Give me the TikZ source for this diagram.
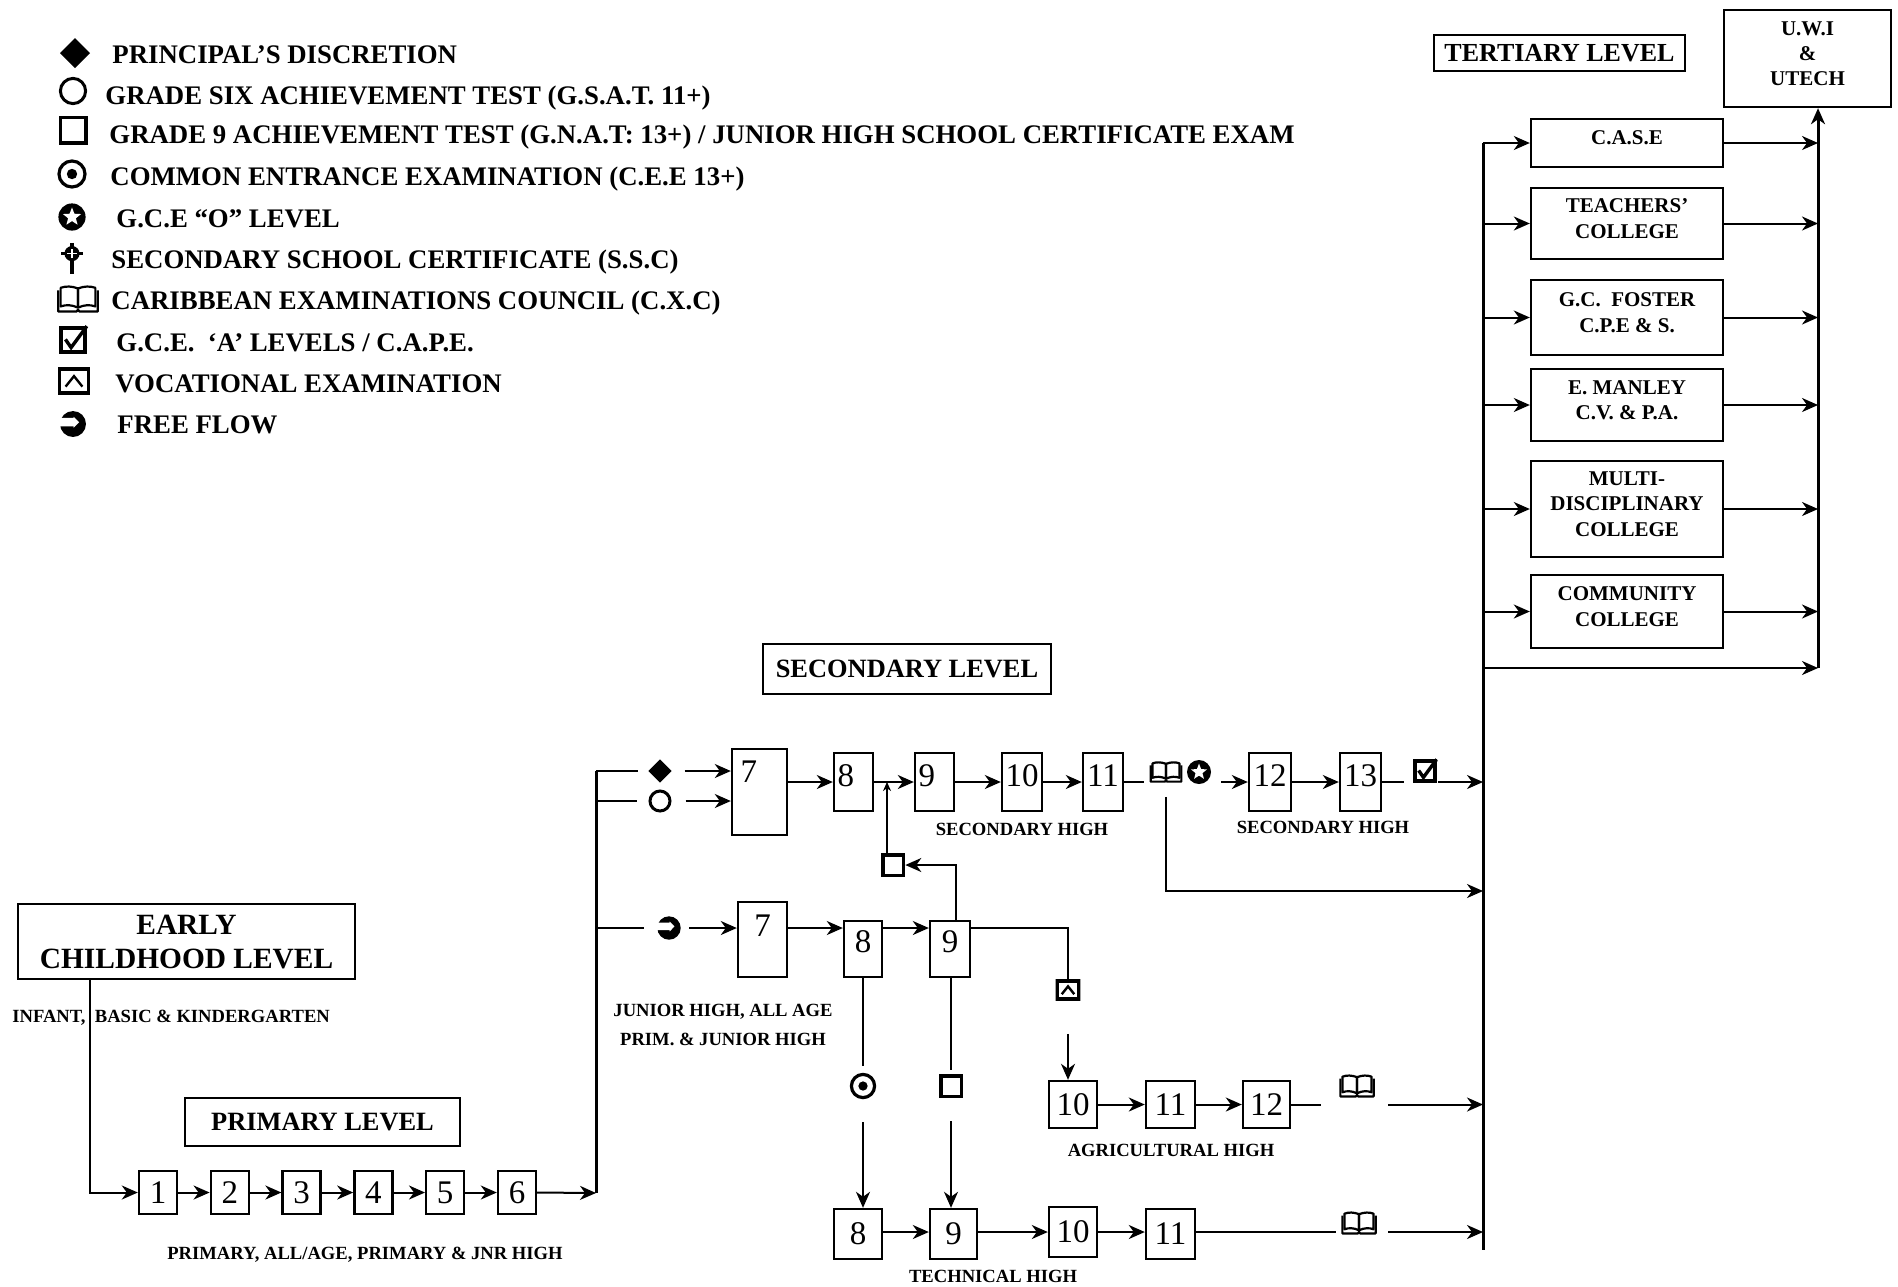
\documentclass[tikz,border=0pt]{standalone}
\usepackage{fontspec}
\setmainfont{Liberation Serif}
\usetikzlibrary{arrows.meta,positioning,shapes.geometric,calc}
\newcommand{\legfont}{\fontsize{13.4}{16}\selectfont\bfseries}
\newcommand{\lvlfont}{\fontsize{13.2}{16}\selectfont\bfseries}
\newcommand{\ecfont}{\fontsize{14.7}{17}\selectfont\bfseries}
\newcommand{\colfont}{\fontsize{10.5}{12.6}\selectfont\bfseries}
\newcommand{\tagfont}{\fontsize{9.3}{14.5}\selectfont\bfseries}
\newcommand{\numfont}{\fontsize{16.5}{18}\selectfont}
\tikzset{
  line/.style={line width=1pt},
  arr/.style={line width=1pt,-{Stealth[length=8pt,width=7pt,inset=2.5pt]}},
  arrsmall/.style={line width=0.6pt,-{Stealth[length=4.5pt,width=4pt,inset=1.4pt]}},
  bus/.style={line width=1.5pt},
  level/.style={draw,line width=1.2pt,inner sep=0pt,font=\lvlfont,align=center},
  college/.style={draw,line width=1.2pt,inner sep=0pt,minimum width=96pt,
    font=\colfont,align=center,text depth=5pt},
  grade/.style={draw,line width=1.2pt,inner sep=0pt,font=\numfont},
  toprow/.style={grade,minimum height=29pt,text height=16.6pt,text depth=12.4pt},
  legtext/.style={anchor=west,inner sep=0pt,font=\legfont,text height=8.8pt,
    text depth=0pt},
  tag/.style={inner sep=0pt,font=\tagfont,align=center},
  % exam marks
  pdmark/.style={diamond,fill=black,inner sep=0pt,outer sep=0pt,minimum size=2*#1},
  gsatmark/.style={circle,draw,line width=1.5pt,inner sep=0pt,minimum size=2*#1},
  gnatmark/.style={rectangle,draw,line width=1.9pt,inner sep=0pt,minimum size=2*#1},
  ceemark/.style={circle,draw,line width=1.6pt,inner sep=0pt,minimum size=2*#1,
    path picture={\fill (path picture bounding box.center) circle[radius=0.4*#1];}},
  gcemark/.style={circle,fill=black,inner sep=0pt,minimum size=2*#1,
    path picture={\fill[white,shift={(path picture bounding box.center)}]
      (90:0.7*#1) -- (126:0.3*#1) -- (162:0.7*#1) -- (198:0.3*#1) -- (234:0.7*#1)
      -- (270:0.3*#1) -- (306:0.7*#1) -- (342:0.3*#1) -- (18:0.7*#1)
      -- (54:0.3*#1) -- cycle;}},
  sscmark/.style={inner sep=0pt,minimum width=1.8*#1,minimum height=2.6*#1,
    path picture={\begin{scope}[shift={(path picture bounding box.center)},x=#1,y=#1]
      \draw[line width=1.7pt] (0,1.2) -- (0,-1.3);
      \draw[line width=1.7pt] (-0.85,0.35) -- (0.85,0.35);
      \fill (0,0.35) circle[radius=0.6];
      \draw[white,line width=0.6pt] (-0.38,0.35) -- (0.38,0.35) (0,-0.03) -- (0,0.73);
    \end{scope}}},
  cxcmark/.style={inner sep=0pt,minimum width=3.6*#1,minimum height=2.4*#1,
    path picture={\begin{scope}[shift={(path picture bounding box.center)},x=#1,y=#1,
      line width=1.1pt,line join=round]
      \draw (-1.6,0.7) -- (-1.6,-1) -- (-0.1,-1) -- (0,-0.85) -- (0.1,-1)
        -- (1.6,-1) -- (1.6,0.7);
      \draw (0,-0.7) -- (0,0.85) .. controls (-0.5,1.05) and (-1.0,1.05) .. (-1.4,0.9)
        -- (-1.4,-0.6) .. controls (-1.0,-0.45) and (-0.5,-0.45) .. (0,-0.7);
      \draw (0,-0.7) -- (0,0.85) .. controls (0.5,1.05) and (1.0,1.05) .. (1.4,0.9)
        -- (1.4,-0.6) .. controls (1.0,-0.45) and (0.5,-0.45) .. (0,-0.7);
    \end{scope}}},
  capemark/.style={inner sep=0pt,minimum size=2.4*#1,
    path picture={\begin{scope}[shift={(path picture bounding box.center)},x=#1,y=#1]
      \draw[line width=1.7pt] (-0.95,-0.95) rectangle (0.95,0.95);
      \draw[line width=1.7pt,line join=miter] (-0.6,0.05) -- (-0.15,-0.6) -- (1.1,1.1);
    \end{scope}}},
  vocmark/.style={inner sep=0pt,minimum width=2.4*#1,minimum height=2*#1,
    path picture={\begin{scope}[shift={(path picture bounding box.center)},x=#1,y=#1]
      \draw[line width=1.7pt] (-1.05,-0.85) rectangle (1.05,0.85);
      \draw[line width=1.2pt] (-0.6,-0.4) -- (0,0.35) -- (0.6,-0.4);
    \end{scope}}},
  ffmark/.style={inner sep=0pt,minimum size=2*#1,
    path picture={\begin{scope}[shift={(path picture bounding box.center)},x=#1,y=#1]
      \fill (0,0) circle[radius=0.9];
      \fill[white] (-1,0.42) -- (0.05,0.42) -- (0.05,0.5) -- (0.42,0.12)
        -- (0.05,-0.26) -- (0.05,-0.16) -- (-1,-0.16) -- cycle;
    \end{scope}}}
}
\begin{document}
\begin{tikzpicture}[x=0.5pt,y=-0.5pt]
\fill[white] (0,0) rectangle (1898,1286);
\useasboundingbox (0,0) rectangle (1898,1286);

% key
\node[pdmark=7.5pt] (lgPd) at (75,53) {};
\node[legtext] (ltPd) at (112,54.5) {PRINCIPAL’S DISCRETION};
\node[gsatmark=6.3pt] (lgGs) at (73,91) {};
\node[legtext] (ltGs) at (105,95.5) {GRADE SIX ACHIEVEMENT TEST (G.S.A.T. 11+)};
\node[gnatmark=6.3pt] (lgGn) at (73,130) {};
\node[legtext] (ltGn) at (109,134.5)
  {GRADE 9 ACHIEVEMENT TEST (G.N.A.T: 13+) / JUNIOR HIGH SCHOOL CERTIFICATE EXAM};
\node[ceemark=6.5pt] (lgCe) at (72,174) {};
\node[legtext] (ltCe) at (110,177) {COMMON ENTRANCE EXAMINATION (C.E.E 13+)};
\node[gcemark=6.8pt] (lgGc) at (72,217) {};
\node[legtext] (ltGc) at (116,219) {G.C.E “O” LEVEL};
\node[sscmark=6.3pt] (lgSs) at (72,258) {};
\node[legtext] (ltSs) at (111,260) {SECONDARY SCHOOL CERTIFICATE (S.S.C)};
\node[cxcmark=6.2pt] (lgCx) at (78,299) {};
\node[legtext] (ltCx) at (111,301) {CARIBBEAN EXAMINATIONS COUNCIL (C.X.C)};
\node[capemark=6.3pt] (lgCa) at (73,340) {};
\node[legtext] (ltCa) at (116,342.5) {G.C.E.\ \ ‘A’ LEVELS / C.A.P.E.};
\node[vocmark=7pt] (lgVo) at (74,381) {};
\node[legtext] (ltVo) at (115,383.5) {VOCATIONAL EXAMINATION};
\node[ffmark=7.2pt] (lgFf) at (73,424) {};
\node[legtext] (ltFf) at (117,425) {FREE FLOW};

% tertiary
\node[level,minimum width=125.5pt,minimum height=18pt,font=\fontsize{13}{16}\selectfont\bfseries]
  (tert) at (1559.5,53) {TERTIARY LEVEL};
\node[college,minimum width=83.5pt,minimum height=48.5pt] (uwi) at (1807.5,58.5)
  {U.W.I\\\&\\UTECH};
\node[college,minimum height=24pt] (case) at (1627,143) {C.A.S.E};
\node[college,minimum height=35.5pt] (teach) at (1627,223.5) {TEACHERS’\\COLLEGE};
\node[college,minimum height=37.5pt] (foster) at (1627,317.5) {G.C.\ \ FOSTER\\C.P.E \& S.};
\node[college,minimum height=36pt] (manley) at (1627,405) {E. MANLEY\\C.V. \& P.A.};
\node[college,minimum height=48pt] (multi) at (1627,509) {MULTI-\\DISCIPLINARY\\COLLEGE};
\node[college,minimum height=36.5pt] (comm) at (1627,611.5) {COMMUNITY\\COLLEGE};
\coordinate (tbTop) at (1483,143);
\coordinate (tbBot) at (1483,1250);
\coordinate (ubBot) at (1818,668);
\draw[bus] (tbTop) -- (tbBot);
\draw[bus,-{Stealth[length=8pt,width=7pt,inset=2.5pt]}] (ubBot) -- (ubBot |- uwi.south);
\foreach \c in {case,teach,foster,manley,multi,comm}{
  \draw[arr] (tbTop |- \c.west) -- (\c.west);
  \draw[arr] (\c.east) -- (ubBot |- \c.east);
}
\draw[arr] (tbTop |- ubBot) -- (ubBot);

% secondary
\node[level,minimum width=144pt,minimum height=25pt] (sec) at (907,669) {SECONDARY LEVEL};
\coordinate (busT) at (596,771);
\coordinate (busB) at (596,1193);
\draw[bus] (busT) -- (busB);
\node[pdmark=5.8pt] (pd) at (660,771) {};
\node[gsatmark=5pt] (gs) at (660,801) {};
\node[grade,minimum width=27.5pt,minimum height=43pt,text height=16.6pt,text depth=26.4pt,
  text width=19pt,inner xsep=4pt,align=left] (s7) at (759.5,792) {7};
\node[toprow,minimum width=19.5pt,text width=16pt,inner xsep=1.75pt,align=left] (s8) at (853.5,782) {8};
\node[toprow,minimum width=19.5pt,text width=16pt,inner xsep=1.75pt,align=left] (s9) at (934.5,782) {9};
\node[toprow,minimum width=20pt] (s10) at (1022,782) {10};
\node[toprow,minimum width=20pt] (s11) at (1103,782) {11};
\node[toprow,minimum width=21pt] (s12) at (1270,782) {12};
\node[toprow,minimum width=20.5pt] (s13) at (1360.5,782) {13};
\draw[line,shorten >=5pt] (busT) -- (pd.west);
\draw[line,shorten >=6pt] (busT |- gs) -- (gs.west);
\draw[arr,shorten <=6.5pt] (pd.east) -- (s7.west |- pd);
\draw[arr,shorten <=7pt] (gs.east) -- (s7.west |- gs);
\draw[arr] (s7.east |- s8.west) -- (s8.west);
\draw[arr] (s8) -- (s9);
\draw[arr] (s9) -- (s10);
\draw[arr] (s10) -- (s11);
\node[cxcmark=4.8pt] (bkA) at (1166,772) {};
\node[gcemark=6pt] (gceA) at (1199,772) {};
\draw[line] (s11.east) -- ([xshift=-2pt]bkA.west |- s11.east);
\draw[arr] ([xshift=5pt]gceA.east |- s12.west) -- (s12.west);
\draw[arr] (s12) -- (s13);
\node[capemark=5.3pt] (cape) at (1425,771) {};
\draw[line] (s13.east) -- ([xshift=-4pt]cape.west |- s13.east);
\draw[arr] (cape.east |- s13.east) -- (tbTop |- s13.east);
\coordinate (bypass) at (1483,891);
\draw[arr] ([yshift=-6.5pt]bkA.south) |- (bypass);
\node[tag] (secTagA) at (1022,829) {SECONDARY HIGH};
\node[tag] (secTagB) at (1323,827) {SECONDARY HIGH};

% junior high
\node[ffmark=6.5pt] (ff) at (669,928) {};
\node[grade,minimum width=24.5pt,minimum height=37.5pt,text height=17.1pt,text depth=20.4pt]
  (j7) at (762.5,939.5) {7};
\node[grade,minimum width=19pt,minimum height=28pt,text height=15.6pt,text depth=12.4pt]
  (j8) at (863,949) {8};
\node[grade,minimum width=20pt,minimum height=28pt,text height=15.6pt,text depth=12.4pt]
  (j9) at (950,949) {9};
\draw[line,shorten >=6pt] (busT |- ff) -- (ff.west);
\draw[arr,shorten <=3.5pt] (ff.east) -- (j7.west |- ff);
\draw[arr] (j7.east |- ff) -- (j8.west |- ff);
\draw[arr] (j8.east |- ff) -- (j9.west |- ff);
\node[gnatmark=5.2pt] (gq) at (893,865) {};
\draw[arr] ([xshift=3pt]j9.north) |- (gq.east);
\draw[arrsmall] ([xshift=-3pt]gq.north) -- ([xshift=-3pt]gq.north |- s8.east);
\node[tag] (jrTag) at (723,1024.5) {JUNIOR HIGH, ALL AGE\\PRIM. \& JUNIOR HIGH};
\node[ceemark=5.8pt] (cee) at (863,1086) {};
\node[gnatmark=5.2pt] (gt) at (951,1086) {};
\node[vocmark=5.2pt] (voc) at (1068,990) {};
\draw[line,shorten >=3.5pt] (j8.south) -- (cee.north);
\draw[line,shorten >=2pt] (j8.south -| gt) -- (gt.north);
\draw[line] (j9.east |- ff) -| (voc.north);

% agricultural high
\node[grade,minimum width=24pt,minimum height=23.5pt] (a10) at (1073,1104.5) {10};
\node[grade,minimum width=24.5pt,minimum height=23.5pt] (a11) at (1170.5,1104.5) {11};
\node[grade,minimum width=23.5pt,minimum height=23.5pt] (a12) at (1266.5,1104.5) {12};
\draw[arr,shorten <=16.5pt] (voc.south) -- (voc |- a10.north);
\draw[arr] (a10) -- (a11);
\draw[arr] (a11) -- (a12);
\node[cxcmark=5.2pt] (bkB) at (1357,1086) {};
\draw[line] (a12.east) -- ([xshift=-8.5pt]bkB.west |- a12.east);
\draw[arr] ([xshift=6pt]bkB.east |- a12.east) -- (tbTop |- a12.east);
\node[tag] (agTag) at (1171,1150) {AGRICULTURAL HIGH};

% technical high
\node[grade,minimum width=24pt,minimum height=25pt] (t8) at (858,1234) {8};
\node[grade,minimum width=23.5pt,minimum height=25pt] (t9) at (953.5,1234) {9};
\node[grade,minimum width=24pt,minimum height=25pt] (t10) at (1073,1232) {10};
\node[grade,minimum width=24.5pt,minimum height=25pt] (t11) at (1170.5,1234) {11};
\draw[arr,shorten <=11.5pt] (cee.south) -- (cee |- t8.north);
\draw[arr,shorten <=11.5pt] (gt.south) -- (gt |- t9.north);
\draw[arr] (t8.east |- t10) -- (t9.west |- t10);
\draw[arr] (t9.east |- t10) -- (t10.west);
\draw[arr] (t10.east) -- (t11.west |- t10);
\node[cxcmark=5.2pt] (bkC) at (1359,1223) {};
\draw[line] (t11.east |- t10) -- ([xshift=-2pt]bkC.west |- t10);
\draw[arr] ([xshift=5pt]bkC.east |- t10) -- (tbTop |- t10);
\node[tag] (techTag) at (993,1276) {TECHNICAL HIGH};

% early childhood and primary
\node[level,minimum width=168.5pt,minimum height=37.5pt,font=\ecfont] (early)
  at (186.5,941.5) {EARLY\\CHILDHOOD LEVEL};
\node[tag,anchor=west] (infTag) at (12,1018) {INFANT,\ \ BASIC \& KINDERGARTEN};
\node[level,minimum width=137.5pt,minimum height=24pt] (prim) at (322.5,1122) {PRIMARY LEVEL};
\foreach \n in {1,...,6}
  \node[grade,minimum width=19pt,minimum height=21.5pt] (p\n) at ({158+71.8*(\n-1)},1192.5) {\n};
\foreach \n [count=\m from 2] in {1,...,5}
  \draw[arr] (p\n) -- (p\m);
\draw[arr] ([xshift=36.5pt]early.south west) |- (p1.west);
\draw[arr] (p6.east) -- (busB);
\node[tag] (primTag) at (365,1255) {PRIMARY, ALL/AGE, PRIMARY \& JNR HIGH};
\end{tikzpicture}
\end{document}
